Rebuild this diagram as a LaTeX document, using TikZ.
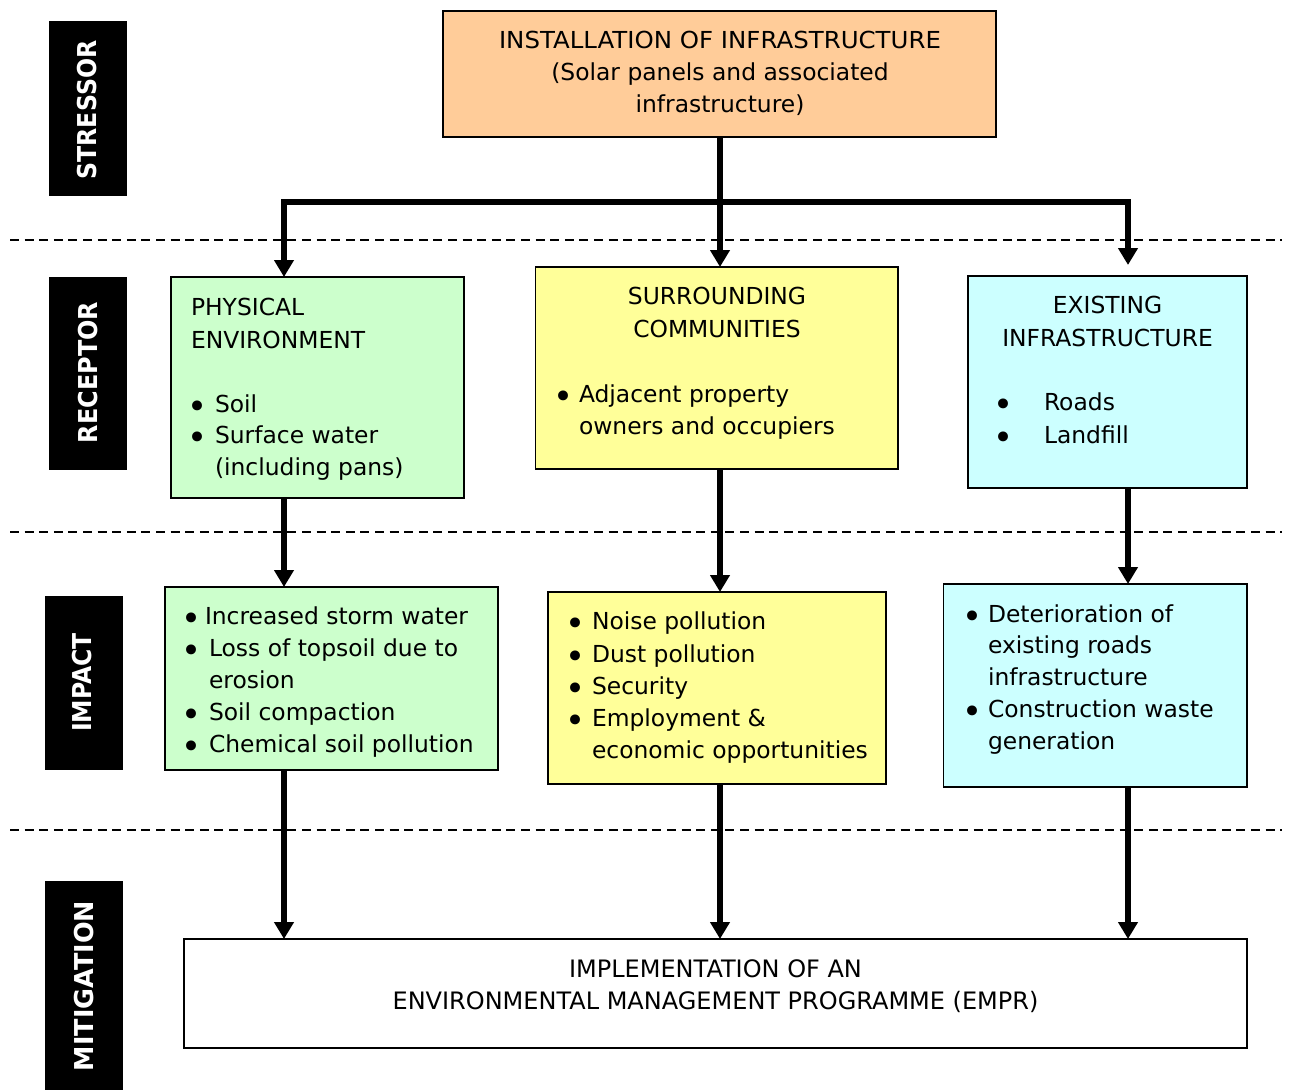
\documentclass[tikz,border=0pt]{standalone}
\usepackage{fontspec}
\setmainfont{DejaVu Sans}
\usetikzlibrary{arrows.meta}
\definecolor{peach}{HTML}{FFCC99}
\definecolor{lgreen}{HTML}{CCFFCC}
\definecolor{lyellow}{HTML}{FFFF99}
\definecolor{lcyan}{HTML}{CCFFFF}
\newcommand\bul[1]{\llap{\makebox[#1pt][c]{\raisebox{-6pt}{\scalebox{1.45}{•}}}}}
\tikzset{
  box/.style={draw=black, line width=1.8pt, inner sep=0pt, outer sep=0pt},
  lab/.style={fill=black, inner sep=0pt, outer sep=0pt},
  labtext/.style={text=white, rotate=90, inner sep=0pt, outer sep=0pt, font=\fontsize{26}{30}\selectfont\bfseries},
  txt/.style={inner sep=0pt, outer sep=0pt},
  conn/.style={line width=6pt, line join=miter},
  tip/.style={-{Triangle[width=19pt,length=17pt]}},
  sepline/.style={dash pattern=on 9pt off 5.6pt, line width=1.6pt}
}
\begin{document}
\begin{tikzpicture}[x=1pt,y=-1pt]
\useasboundingbox (0,0) rectangle (1292,1089);
% separators
\draw[sepline] (10,240) -- (1282,240);
\draw[sepline] (10,532) -- (1282,532);
\draw[sepline] (10,830) -- (1282,830);
% row labels
\node[lab, minimum width=78pt, minimum height=175pt] (l1) at (88,108.5) {};
\node[labtext] (l1t) at (87.5,110) {\scalebox{0.91}[1]{STRESSOR}};
\node[lab, minimum width=78pt, minimum height=193pt] (l2) at (88,373.5) {};
\node[labtext] (l2t) at (88,372.5) {\scalebox{0.92}[1]{RECEPTOR}};
\node[lab, minimum width=78pt, minimum height=174pt] (l3) at (84,683) {};
\node[labtext] (l3t) at (82.5,682.5) {\scalebox{0.905}[1]{IMPACT}};
\node[lab, minimum width=78pt, minimum height=212pt] (l4) at (84,987) {};
\node[labtext] (l4t) at (84,986) {\scalebox{0.98}[1]{MITIGATION}};
% boxes
\node[box, fill=peach, minimum width=553pt, minimum height=126pt] (s) at (719.5,74) {};
\node[box, fill=lgreen, minimum width=293pt, minimum height=221pt] (g1) at (317.5,387.5) {};
\node[box, fill=lyellow, minimum width=362.5pt, minimum height=202pt] (y1) at (716.75,368) {};
\node[box, fill=lcyan, minimum width=279pt, minimum height=212pt] (c1) at (1107.5,382) {};
\node[box, fill=lgreen, minimum width=333pt, minimum height=183pt] (g2) at (331.5,678.5) {};
\node[box, fill=lyellow, minimum width=338pt, minimum height=192pt] (y2) at (717,688) {};
\node[box, fill=lcyan, minimum width=303.5pt, minimum height=203pt] (c2) at (1095.25,685.5) {};
\node[box, fill=white, minimum width=1063pt, minimum height=109pt] (m) at (715.5,993.5) {};
% texts
\node[txt, anchor=north, align=center, font=\fontsize{23.4}{31.6}\selectfont] (st) at (720,26.88)
  {\strut\scalebox{1.045}[1]{INSTALLATION OF INFRASTRUCTURE}\\\strut (Solar panels and associated\\\strut infrastructure)};
\node[txt, anchor=north west, align=left, font=\fontsize{23.4}{33}\selectfont] (g1h) at (191,291.9)
  {\strut PHYSICAL\\\strut ENVIRONMENT};
\node[txt, anchor=north west, align=left, font=\fontsize{23.4}{31.5}\selectfont] (g1l) at (215,389.95)
  {\strut\bul{34}Soil\\\strut\bul{34}Surface water\\\strut(including pans)};
\node[txt, anchor=north, align=center, font=\fontsize{23.4}{33}\selectfont] (y1h) at (717,280.9)
  {\strut SURROUNDING\\\strut COMMUNITIES};
\node[txt, anchor=north west, align=left, font=\fontsize{23.4}{32}\selectfont] (y1l) at (579,379.6)
  {\strut\bul{32}Adjacent property\\\strut owners and occupiers};
\node[txt, anchor=north, align=center, font=\fontsize{23.4}{33}\selectfont] (c1h) at (1107.5,289.9)
  {\strut EXISTING\\\strut INFRASTRUCTURE};
\node[txt, anchor=north west, align=left, font=\fontsize{23.4}{33}\selectfont] (c1l) at (1044,386.9)
  {\strut\bul{82}Roads\\\strut\bul{82}Landfill};
\node[txt, anchor=north west, align=left, font=\fontsize{23.4}{32}\selectfont] (g2l) at (209,601.6)
  {\strut\bul{34}\kern-4pt Increased storm water\\\strut\bul{34}Loss of topsoil due to\\\strut erosion\\\strut\bul{34}Soil compaction\\\strut\bul{34}Chemical soil pollution};
\node[txt, anchor=north west, align=left, font=\fontsize{23.4}{32.25}\selectfont] (y2l) at (592,607.4)
  {\strut\bul{34}Noise pollution\\\strut\bul{34}Dust pollution\\\strut\bul{34}Security\\\strut\bul{34}Employment \&\\\strut economic opportunities};
\node[txt, anchor=north west, align=left, font=\fontsize{23.4}{31.75}\selectfont] (c2l) at (988,599.8)
  {\strut\bul{32}Deterioration of\\\strut existing roads\\\strut infrastructure\\\strut\bul{32}Construction waste\\\strut generation};
\node[txt, anchor=north, align=center, font=\fontsize{24}{32}\selectfont] (mt) at (715.5,954.6)
  {\strut IMPLEMENTATION OF AN\\\strut ENVIRONMENTAL MANAGEMENT PROGRAMME (EMPR)};
% connectors
\coordinate (jL) at (284,201.5);
\coordinate (jC) at (720,201.5);
\coordinate (jR) at (1128,201.5);
\draw[conn] (jC |- s.south) -- (jC);
\draw[conn,tip] (jC) -- (jL) -- (jL |- g1.north);
\draw[conn,tip,shorten >=11pt] (jC) -- (jR) -- (jR |- c1.north);
\draw[conn,tip] (jC) -- (jC |- y1.north);
\draw[conn,tip] (jL |- g1.south) -- (jL |- g2.north);
\draw[conn,tip] (jC |- y1.south) -- (jC |- y2.north);
\draw[conn,tip] (jR |- c1.south) -- (jR |- c2.north);
\draw[conn,tip] (jL |- g2.south) -- (jL |- m.north);
\draw[conn,tip] (jC |- y2.south) -- (jC |- m.north);
\draw[conn,tip] (jR |- c2.south) -- (jR |- m.north);
\end{tikzpicture}
\end{document}
